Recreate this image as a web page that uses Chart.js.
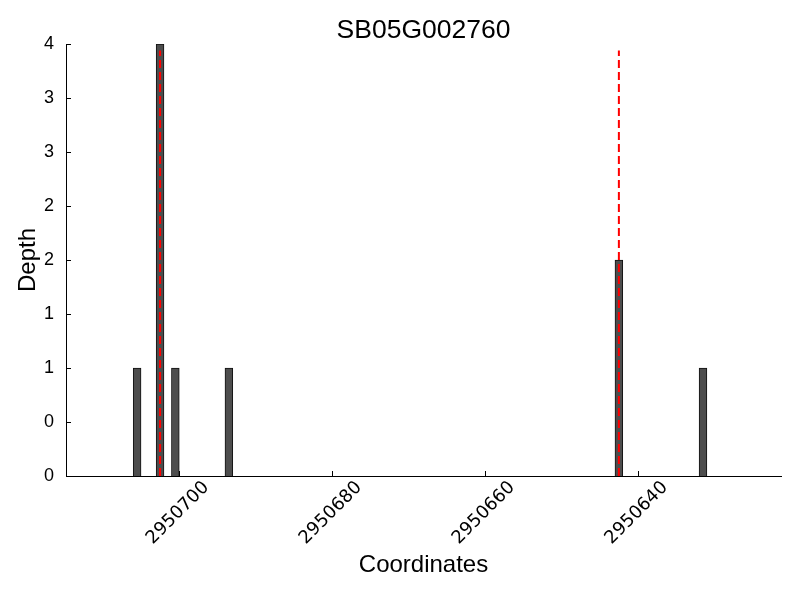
<!DOCTYPE html>
<html>
<head>
<meta charset="utf-8">
<script src="https://cdn.jsdelivr.net/npm/chart.js@4/dist/chart.umd.min.js"></script>
<style>
  html, body { margin: 0; padding: 0; background: #fff; }
  #wrap { width: 800px; height: 600px; }
</style>
</head>
<body>
<div id="wrap"><canvas id="depthChart" width="800" height="600"></canvas></div>
<script>
// read-depth bars (bar centres on the coordinate axis)
const positions = [2950705.5, 2950702.5, 2950700.5, 2950693.5, 2950642.5, 2950631.5];
const depths = [1, 4, 1, 1, 2, 1];
// red dashed markers
const markerPositions = [2950702.5, 2950642.5];
const markerTop = 3.94;
// axis ticks
const xTicks = [2950640, 2950660, 2950680, 2950700];
const yTicks = [0, 0.5, 1, 1.5, 2, 2.5, 3, 3.5, 4];
const xMin = 2950621.3, xMax = 2950714.8;

const barData = positions.map((p, i) => ({ x: p, y: depths[i] }));
const markerSets = markerPositions.map(p => ({
  type: 'line',
  data: [{ x: p, y: 0 }, { x: p, y: markerTop }],
  borderColor: '#ff0000',
  borderWidth: 2,
  borderDash: [8, 4],
  pointRadius: 0,
  fill: false,
  order: 0
}));

// matplotlib-style inward tick marks
const innerTicks = {
  id: 'innerTicks',
  afterDraw(chart) {
    const { ctx, chartArea, scales } = chart;
    ctx.save();
    ctx.strokeStyle = '#000';
    ctx.lineWidth = 1;
    ctx.beginPath();
    scales.x.ticks.forEach(t => {
      const px = Math.round(scales.x.getPixelForValue(t.value)) + 0.5;
      ctx.moveTo(px, chartArea.bottom);
      ctx.lineTo(px, chartArea.bottom - 5);
    });
    scales.y.ticks.forEach(t => {
      const py = Math.round(scales.y.getPixelForValue(t.value)) + 0.5;
      ctx.moveTo(chartArea.left, py);
      ctx.lineTo(chartArea.left + 5, py);
    });
    ctx.stroke();
    ctx.restore();
  }
};

new Chart(document.getElementById('depthChart'), {
  type: 'bar',
  data: {
    datasets: [{
      data: barData,
      backgroundColor: '#4d4d4d',
      borderColor: '#111',
      borderWidth: 1,
      barThickness: 7.8,
      order: 1
    }].concat(markerSets)
  },
  options: {
    responsive: false,
    animation: false,
    layout: { padding: { left: 0, right: 19, top: 0, bottom: 0 } },
    plugins: {
      legend: { display: false },
      tooltip: { enabled: false },
      title: {
        display: true,
        fullSize: false,
        text: 'SB05G002760',
        color: '#000',
        font: { family: 'Liberation Sans', size: 26.5, weight: 'normal', lineHeight: 0.93 },
        padding: { top: 18.75, bottom: 0.65 }
      }
    },
    scales: {
      x: {
        type: 'linear',
        reverse: true,
        offset: false,
        min: xMin,
        max: xMax,
        grid: { display: false, drawTicks: false },
        border: { display: true, color: '#000', width: 1 },
        afterBuildTicks: s => { s.ticks = xTicks.map(v => ({ value: v })); },
        afterFit: s => { s.height = 124; s.paddingLeft = 0; s.paddingRight = 0; },
        ticks: {
          autoSkip: false,
          minRotation: 45,
          maxRotation: 45,
          padding: 1,
          labelOffset: 27,
          color: '#000',
          font: { family: 'DejaVu Sans', size: 18 },
          callback: v => String(v)
        },
        title: {
          display: true,
          text: 'Coordinates',
          color: '#000',
          font: { family: 'Liberation Sans', size: 24 },
          padding: { top: 0, bottom: 20 }
        }
      },
      y: {
        min: 0,
        max: 4,
        grid: { display: false, drawTicks: false },
        border: { display: true, color: '#000', width: 1 },
        afterBuildTicks: s => { s.ticks = yTicks.map(v => ({ value: v })); },
        afterFit: s => { s.width = 66; s.paddingTop = 0; s.paddingBottom = 0; },
        ticks: {
          padding: 12,
          color: '#000',
          font: { family: 'Liberation Sans', size: 18 },
          callback: v => String(Math.floor(v))
        },
        title: {
          display: true,
          text: 'Depth',
          color: '#000',
          font: { family: 'Liberation Sans', size: 24 },
          padding: { top: 14, bottom: 0 }
        }
      }
    }
  },
  plugins: [innerTicks]
});
</script>
</body>
</html>
